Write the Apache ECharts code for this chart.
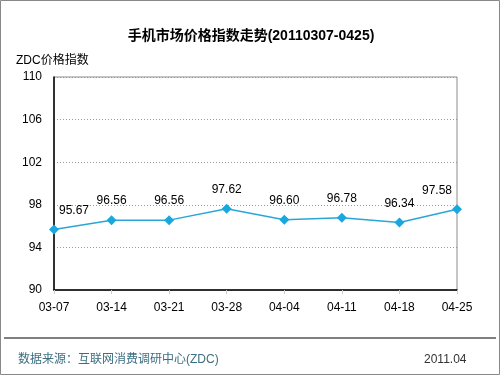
<!DOCTYPE html>
<html><head><meta charset="utf-8">
<script src="https://cdn.jsdelivr.net/npm/echarts@6/dist/echarts.min.js"></script>
<style>html,body{margin:0;padding:0;background:#fff}#c{width:500px;height:375px}</style>
</head><body><div id="c"></div>
<script>
const categories = ['03-07','03-14','03-21','03-28','04-04','04-11','04-18','04-25'];
const values = [95.67, 96.56, 96.56, 97.62, 96.60, 96.78, 96.34, 97.58];
const yTicks = [90, 94, 98, 102, 106, 110];

const chart = echarts.init(document.getElementById('c'));
const font = 'Arial, "Liberation Sans", "Noto Sans CJK SC", sans-serif';
const data = values.map((v, i) => {
  const d = { value: v };
  if (i === 0) d.label = { offset: [20, 0] };
  if (i === values.length - 1) d.label = { offset: [-20, 0] };
  return d;
});
chart.setOption({
  animation: false,
  title: {
    text: '手机市场价格指数走势(20110307-0425)',
    left: 246, top: 24, textAlign: 'center',
    textStyle: { fontSize: 14, fontWeight: 'bold', color: '#000', fontFamily: font }
  },
  grid: { left: 54, right: 43, top: 77, bottom: 85, show: true, borderColor: '#8c8c8c', borderWidth: 1 },
  xAxis: {
    type: 'category', data: categories, boundaryGap: false,
    axisLine: { lineStyle: { color: '#000', width: 1.5 } },
    axisTick: { show: true, length: 4, inside: false, lineStyle: { color: '#ccc' } },
    axisLabel: { color: '#000', fontSize: 12, margin: 12, fontFamily: font },
    splitLine: { show: false }
  },
  yAxis: {
    type: 'value', min: 90, max: 110, interval: 4,
    name: 'ZDC价格指数', nameLocation: 'end', nameGap: 10,
    nameTextStyle: { color: '#000', fontSize: 12, align: 'left', padding: [0, 0, 0, -38], fontFamily: font },
    axisLine: { show: true, lineStyle: { color: '#000', width: 1.5 } },
    axisTick: { show: false },
    axisLabel: { color: '#000', fontSize: 12, margin: 12, fontFamily: font },
    splitLine: { lineStyle: { color: '#999', type: [1, 2] } }
  },
  series: [{
    type: 'line', data: data,
    symbol: 'diamond', symbolSize: 10,
    lineStyle: { color: '#2aa6d6', width: 1.5 },
    itemStyle: { color: '#17a8e0' },
    label: { show: true, position: 'top', distance: 8, color: '#000', fontSize: 12, fontFamily: font,
      formatter: p => p.value.toFixed(2) }
  }],
  graphic: [
    { type: 'rect', shape: { x: 0.5, y: 0.5, width: 499, height: 374 }, style: { fill: 'none', stroke: '#888', lineWidth: 1 } },
    { type: 'line', shape: { x1: 4, y1: 338, x2: 496, y2: 338 }, style: { stroke: '#000', lineWidth: 1 } },
    { type: 'text', left: 18, top: 354, style: { text: '数据来源：互联网消费调研中心(ZDC)', fill: '#3d6f80', fontSize: 12, fontFamily: font } },
    { type: 'text', left: 424, top: 354, style: { text: '2011.04', fill: '#333', fontSize: 12, fontFamily: font } }
  ]
});
</script></body></html>
